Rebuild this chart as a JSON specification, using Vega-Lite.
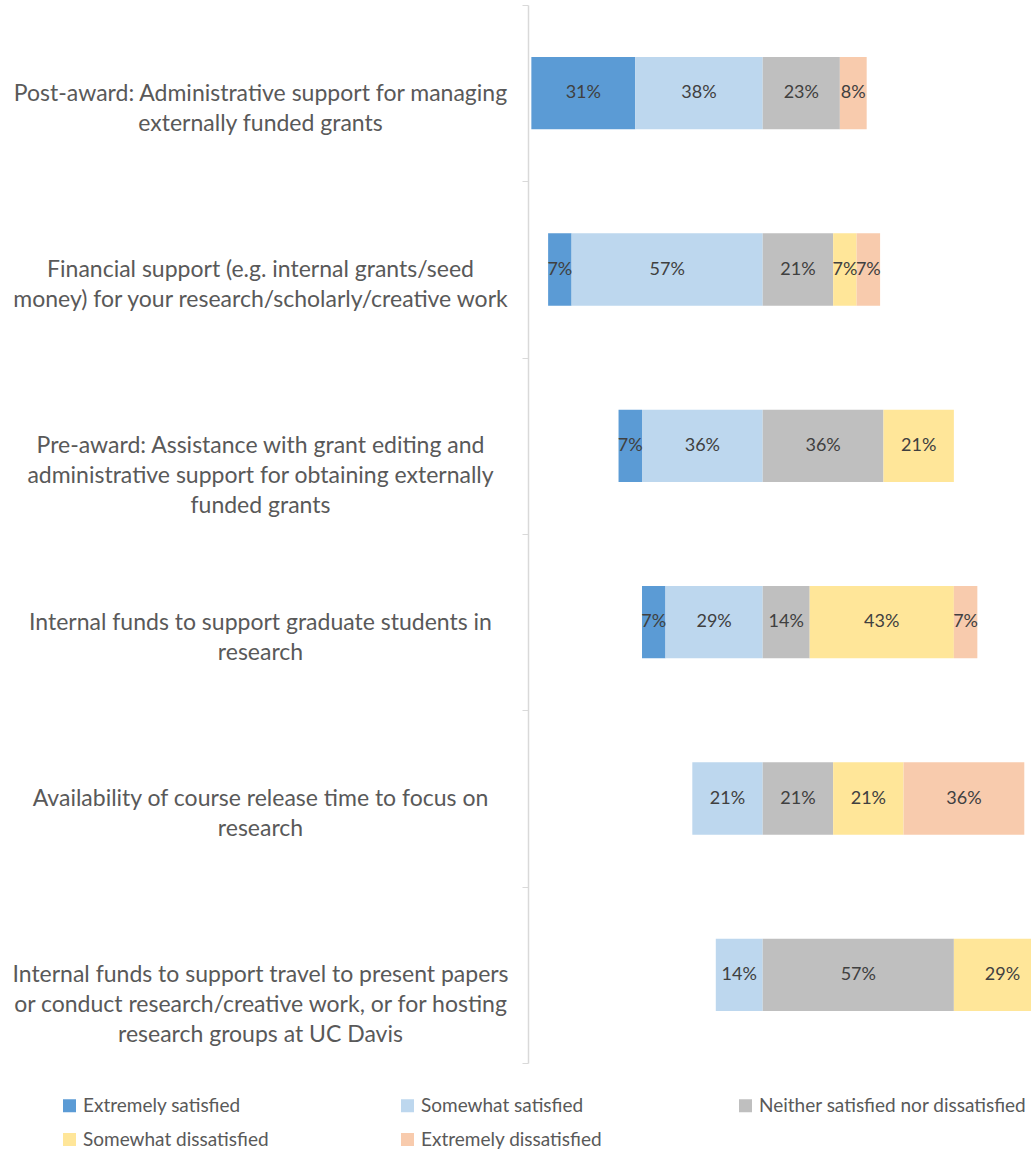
{
  "$schema": "https://vega.github.io/schema/vega-lite/v6.json",
  "autosize": "none",
  "width": 503,
  "height": 1058,
  "padding": {"left": 528, "top": 5, "right": 0, "bottom": 90},
  "background": "white",
  "config": {"view": {"stroke": null}, "font": "Lato"},
  "data": {
    "values": [
      {"q": "Post-award: Administrative support for managing|externally funded grants", "cat": "Extremely satisfied", "ord": 2, "pct": 31},
      {"q": "Post-award: Administrative support for managing|externally funded grants", "cat": "Somewhat satisfied", "ord": 1, "pct": 38},
      {"q": "Post-award: Administrative support for managing|externally funded grants", "cat": "Neither satisfied nor dissatisfied", "ord": 3, "pct": 23},
      {"q": "Post-award: Administrative support for managing|externally funded grants", "cat": "Extremely dissatisfied", "ord": 5, "pct": 8},
      {"q": "Financial support (e.g. internal grants/seed|money) for your research/scholarly/creative work", "cat": "Extremely satisfied", "ord": 2, "pct": 7},
      {"q": "Financial support (e.g. internal grants/seed|money) for your research/scholarly/creative work", "cat": "Somewhat satisfied", "ord": 1, "pct": 57},
      {"q": "Financial support (e.g. internal grants/seed|money) for your research/scholarly/creative work", "cat": "Neither satisfied nor dissatisfied", "ord": 3, "pct": 21},
      {"q": "Financial support (e.g. internal grants/seed|money) for your research/scholarly/creative work", "cat": "Somewhat dissatisfied", "ord": 4, "pct": 7},
      {"q": "Financial support (e.g. internal grants/seed|money) for your research/scholarly/creative work", "cat": "Extremely dissatisfied", "ord": 5, "pct": 7},
      {"q": "Pre-award: Assistance with grant editing and|administrative support for obtaining externally|funded grants", "cat": "Extremely satisfied", "ord": 2, "pct": 7},
      {"q": "Pre-award: Assistance with grant editing and|administrative support for obtaining externally|funded grants", "cat": "Somewhat satisfied", "ord": 1, "pct": 36},
      {"q": "Pre-award: Assistance with grant editing and|administrative support for obtaining externally|funded grants", "cat": "Neither satisfied nor dissatisfied", "ord": 3, "pct": 36},
      {"q": "Pre-award: Assistance with grant editing and|administrative support for obtaining externally|funded grants", "cat": "Somewhat dissatisfied", "ord": 4, "pct": 21},
      {"q": "Internal funds to support graduate students in|research", "cat": "Extremely satisfied", "ord": 2, "pct": 7},
      {"q": "Internal funds to support graduate students in|research", "cat": "Somewhat satisfied", "ord": 1, "pct": 29},
      {"q": "Internal funds to support graduate students in|research", "cat": "Neither satisfied nor dissatisfied", "ord": 3, "pct": 14},
      {"q": "Internal funds to support graduate students in|research", "cat": "Somewhat dissatisfied", "ord": 4, "pct": 43},
      {"q": "Internal funds to support graduate students in|research", "cat": "Extremely dissatisfied", "ord": 5, "pct": 7},
      {"q": "Availability of course release time to focus on|research", "cat": "Somewhat satisfied", "ord": 1, "pct": 21},
      {"q": "Availability of course release time to focus on|research", "cat": "Neither satisfied nor dissatisfied", "ord": 3, "pct": 21},
      {"q": "Availability of course release time to focus on|research", "cat": "Somewhat dissatisfied", "ord": 4, "pct": 21},
      {"q": "Availability of course release time to focus on|research", "cat": "Extremely dissatisfied", "ord": 5, "pct": 36},
      {"q": "Internal funds to support travel to present papers|or conduct research/creative work, or for hosting|research groups at UC Davis", "cat": "Somewhat satisfied", "ord": 1, "pct": 14},
      {"q": "Internal funds to support travel to present papers|or conduct research/creative work, or for hosting|research groups at UC Davis", "cat": "Neither satisfied nor dissatisfied", "ord": 3, "pct": 57},
      {"q": "Internal funds to support travel to present papers|or conduct research/creative work, or for hosting|research groups at UC Davis", "cat": "Somewhat dissatisfied", "ord": 4, "pct": 29}
    ]
  },
  "transform": [
    {"calculate": "datum.ord <= 2 ? -datum.pct : datum.pct", "as": "v"},
    {"stack": "v", "groupby": ["q"], "sort": [{"field": "ord", "order": "ascending"}], "as": ["x0", "x1"], "offset": "zero"},
    {"calculate": "(datum.x0 + datum.x1) / 2", "as": "xm"},
    {"calculate": "datum.pct + '%'", "as": "lbl"}
  ],
  "encoding": {
    "y": {
      "field": "q",
      "type": "nominal",
      "sort": [
        "Post-award: Administrative support for managing|externally funded grants",
        "Financial support (e.g. internal grants/seed|money) for your research/scholarly/creative work",
        "Pre-award: Assistance with grant editing and|administrative support for obtaining externally|funded grants",
        "Internal funds to support graduate students in|research",
        "Availability of course release time to focus on|research",
        "Internal funds to support travel to present papers|or conduct research/creative work, or for hosting|research groups at UC Davis"
      ],
      "scale": {"paddingInner": 0, "paddingOuter": 0},
      "axis": {
        "title": null,
        "labelExpr": "split(datum.label, '|')",
        "labelAlign": "center",
        "labelBaseline": "middle",
        "labelPadding": 262,
        "labelLimit": 700,
        "labelFontSize": 23,
        "labelLineHeight": 30,
        "labelColor": "#595959",
        "labelFont": "Lato",
        "tickBand": "extent",
        "tickSize": 6,
        "tickColor": "#D9D9D9",
        "domainColor": "#D9D9D9",
        "domainWidth": 1.5,
        "grid": false
      }
    }
  },
  "layer": [
    {
      "mark": {"type": "bar", "clip": true, "height": {"band": 0.41}},
      "encoding": {
        "x": {"field": "x0", "type": "quantitative", "scale": {"domain": [-70, 80], "nice": false}, "axis": null},
        "x2": {"field": "x1"},
        "color": {
          "field": "cat",
          "type": "nominal",
          "scale": {
            "domain": ["Extremely satisfied", "Somewhat satisfied", "Neither satisfied nor dissatisfied", "Somewhat dissatisfied", "Extremely dissatisfied"],
            "range": ["#5B9BD5", "#BDD7EE", "#BFBFBF", "#FFE699", "#F8CBAD"]
          },
          "legend": {
            "title": null,
            "orient": "none",
            "legendX": -468,
            "legendY": 1091,
            "direction": "horizontal",
            "columns": 3,
            "gridAlign": "all",
            "columnPadding": 47,
            "rowPadding": 14,
            "symbolType": "square",
            "symbolSize": 169,
            "symbolStrokeWidth": 0,
            "labelFontSize": 19,
            "labelColor": "#595959",
            "labelFont": "Lato",
            "labelOffset": 4,
            "labelLimit": 400
          }
        }
      }
    },
    {
      "mark": {"type": "text", "fontSize": 18, "color": "#404040", "font": "Lato", "clip": true},
      "encoding": {
        "x": {"field": "xm", "type": "quantitative"},
        "text": {"field": "lbl", "type": "nominal"}
      }
    }
  ]
}
